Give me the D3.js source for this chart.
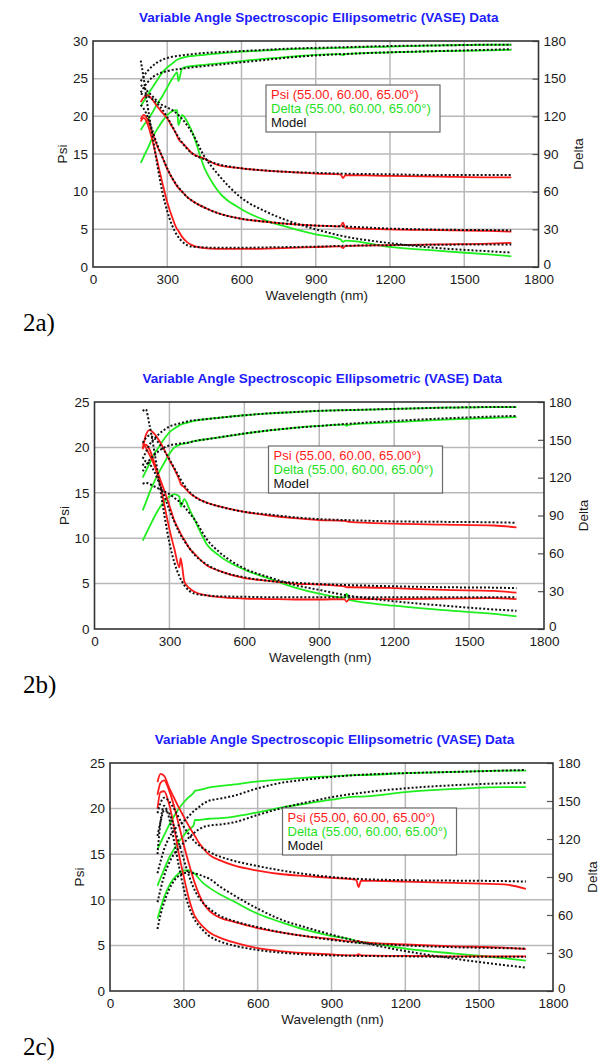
<!DOCTYPE html>
<meta charset="utf-8">
<style>
    body { margin: 0; background: #fff; }
    svg { display: block; font-family: Arial, "Liberation Sans", Helvetica, sans-serif; }
    .title { font-size: 13.5px; font-weight: bold; fill: #1c1cff; }
    .tick text { font-size: 13.5px; fill: #1a1a1a; font-family: Arial, "Liberation Sans", sans-serif; }
    .axis-label { font-size: 13.5px; fill: #1a1a1a; }
    .grid line { stroke: #b8b8b8; stroke-width: 1.5; }
    .frame { fill: none; stroke: #333; stroke-width: 1.6; }
    .psi { fill: none; stroke: #ff1a1a; stroke-width: 1.8; }
    .delta { fill: none; stroke: #1fee1f; stroke-width: 1.8; }
    .model { fill: none; stroke: #111; stroke-width: 2; stroke-dasharray: 2 2; }
    .legend rect { fill: #fff; stroke: #6a6a6a; stroke-width: 1.2; }
    .legend text { font-size: 13px; }
    .fig-label { font-family: "Liberation Serif", "Times New Roman", serif; font-size: 25px; fill: #000; }
</style>

<body>
<script src="https://d3js.org/d3.v7.min.js"></script>
<script>

    var chartTitle = "Variable Angle Spectroscopic Ellipsometric (VASE) Data";
    var legendLabels = ["Psi (55.00, 60.00, 65.00°)", "Delta (55.00, 60.00, 65.00°)", "Model"];

    // tick labels
    var xTicks = [0, 300, 600, 900, 1200, 1500, 1800];
    var psiTicks30 = [0, 5, 10, 15, 20, 25, 30];
    var psiTicks25 = [0, 5, 10, 15, 20, 25];
    var deltaTicks = [0, 30, 60, 90, 120, 150, 180];

    // wavelengths (nm) for measured data and for the model curves
    var dataWl = [193, 205, 220, 240, 260, 280, 300, 320, 340, 345, 360, 380, 400, 450, 500, 600, 700, 800, 900, 1000, 1010, 1020, 1200, 1400, 1600, 1690];
    var modelWl = [193, 205, 220, 240, 260, 280, 300, 320, 340, 360, 380, 400, 450, 500, 600, 700, 800, 900, 1000, 1200, 1400, 1600, 1690];

    /* ------- 2a ------- */
    var psi2aTop = [21.9, 22.5, 22.8, 22.2, 21.3, 20.5, 19.7, 18.6, 17.4, 17.0, 16.5, 15.8, 15.1, 14.4, 13.6, 13.1, 12.8, 12.6, 12.4, 12.3, 11.8, 12.2, 12.1, 12.0, 11.9, 11.9];
    var psi2aMid = [19.6, 20.2, 19.6, 17.8, 16.0, 14.6, 13.0, 11.8, 10.7, 10.5, 10.0, 9.3, 8.8, 7.9, 7.2, 6.4, 6.0, 5.7, 5.5, 5.4, 5.9, 5.2, 5.0, 4.9, 4.8, 4.7];
    var psi2aLow = [19.3, 19.8, 19.0, 16.8, 14.0, 11.2, 8.6, 6.6, 5.0, 4.8, 4.0, 3.3, 2.9, 2.5, 2.4, 2.4, 2.45, 2.55, 2.65, 2.75, 2.5, 2.8, 2.9, 3.0, 3.1, 3.2];
    var delta2aTop = [128, 132, 137, 143, 149, 155, 159, 162, 165, 165.5, 166.5, 167.5, 168, 169, 170, 171.5, 172.5, 173.5, 174, 174.5, 174.5, 174.6, 175.5, 176.5, 177, 177];
    var delta2aMid = [109, 113, 117, 123, 130, 136, 143, 150, 155, 148, 158, 159.5, 160, 161, 162, 164, 166, 167.5, 169, 169.5, 168.5, 169.5, 171, 172, 172.5, 173];
    var delta2aLow = [83, 88, 94, 103, 110, 116, 121, 124, 125, 113, 121, 116, 108, 79, 62, 46, 37, 31, 26, 22, 20, 21, 16, 12.8, 10, 8.5];
    var model2aPsiTop = [23.0, 22.9, 22.7, 22.3, 21.7, 20.9, 19.9, 18.7, 17.5, 16.5, 15.7, 15.1, 14.3, 13.7, 13.1, 12.8, 12.6, 12.5, 12.4, 12.3, 12.2, 12.2, 12.2];
    var model2aPsiMid = [21.5, 21.0, 20.0, 18.1, 16.2, 14.6, 13.1, 11.8, 10.8, 10.0, 9.3, 8.8, 7.9, 7.2, 6.4, 6.0, 5.7, 5.5, 5.4, 5.1, 4.95, 4.9, 4.85];
    var model2aPsiLow = [27.4, 25.0, 21.5, 17.5, 13.5, 10.0, 7.4, 5.5, 4.2, 3.4, 2.9, 2.7, 2.6, 2.55, 2.55, 2.6, 2.65, 2.7, 2.8, 2.9, 2.95, 3.0, 3.0];
    var model2aDeltaTop = [148, 152, 156, 160, 163, 165, 166.5, 167.5, 168, 168.5, 169, 169.5, 170.5, 171, 172, 173, 174, 174.5, 175, 176, 176.5, 177, 177];
    var model2aDeltaMid = [139, 143, 147, 151, 153.5, 155, 156, 157, 157.5, 158, 158.5, 159, 160, 161, 163, 165, 167, 168.5, 169.5, 171, 172, 173, 173.5];
    var model2aDeltaLow = [145, 143, 140, 136, 132, 129, 127, 125, 122, 118, 113, 107, 88, 75, 55, 44, 36, 30, 25, 19, 15, 12.5, 11.5];

    /* ------- 2b ------- */
    var psi2bTop = [19.8, 21.3, 21.9, 21.5, 20.7, 19.7, 18.6, 17.6, 16.4, 16.0, 15.6, 15.0, 14.6, 13.9, 13.5, 12.9, 12.5, 12.2, 12.0, 11.9, 11.85, 11.8, 11.6, 11.5, 11.4, 11.2];
    var psi2bMid = [20.0, 20.3, 19.8, 18.3, 16.7, 15.2, 13.6, 11.9, 10.8, 10.5, 9.8, 8.9, 8.3, 7.0, 6.4, 5.6, 5.3, 5.0, 4.9, 4.7, 4.6, 4.6, 4.5, 4.3, 4.2, 4.0];
    var psi2bLow = [20.5, 20.0, 19.2, 18.0, 16.3, 13.6, 11.0, 8.8, 6.8, 7.8, 5.2, 4.5, 4.1, 3.7, 3.5, 3.35, 3.3, 3.25, 3.25, 3.3, 3.0, 3.3, 3.3, 3.35, 3.4, 3.3];
    var delta2bTop = [120, 125, 131, 139, 145, 151, 156, 159, 161.5, 162, 163, 164, 165, 166.5, 167.5, 169.5, 171, 172, 173, 173.5, 173.5, 173.5, 174.5, 175.5, 176, 176];
    var delta2bMid = [94, 100, 108, 117, 125, 132, 139, 144, 146, 146.5, 147, 148, 149, 150.5, 152, 155, 157.5, 159.5, 161, 162, 161, 162, 164, 166, 167.5, 168];
    var delta2bLow = [70, 75, 81, 89, 96, 101, 105, 107, 105, 97, 103, 95, 87, 67, 58, 47, 40, 33, 28, 25, 28, 23, 18.5, 15, 12, 10];
    var model2bPsiTop = [20.5, 21.0, 21.3, 21.0, 20.4, 19.6, 18.7, 17.7, 16.7, 15.8, 15.1, 14.6, 13.9, 13.5, 12.9, 12.6, 12.3, 12.1, 12.0, 11.85, 11.8, 11.75, 11.7];
    var model2bPsiMid = [18.0, 18.5, 18.2, 17.3, 16.0, 14.6, 13.1, 11.8, 10.6, 9.7, 8.9, 8.2, 7.1, 6.4, 5.7, 5.3, 5.1, 4.95, 4.85, 4.7, 4.6, 4.55, 4.5];
    var model2bPsiLow = [24.0, 24.2, 22.5, 19.5, 16.0, 12.5, 9.5, 7.3, 5.8, 4.8, 4.2, 3.9, 3.7, 3.6, 3.55, 3.5, 3.5, 3.5, 3.5, 3.5, 3.5, 3.5, 3.5];
    var model2bDeltaTop = [135, 140, 146, 151, 155, 158, 160.5, 162, 163, 164, 165, 165.5, 166.5, 167.5, 169.5, 171, 172, 173, 173.5, 174.5, 175.5, 176, 176];
    var model2bDeltaMid = [125, 129, 134, 138, 141.5, 144, 145.5, 146.5, 147, 147.5, 148, 149, 150.5, 152, 155, 157.5, 159.5, 161, 162.5, 165, 167, 168.5, 169];
    var model2bDeltaLow = [115, 116, 115, 113, 111, 109, 107, 104, 101, 97, 92, 87, 71, 61, 48, 41, 35, 31, 27, 22, 18.5, 15.5, 14.5];

    /* ------- 2c ------- */
    var psi2cTop = [22.9, 23.8, 23.6, 22.3, 21.2, 20.1, 19.1, 18.1, 17.2, 17.0, 16.3, 15.6, 15.0, 14.3, 13.8, 13.2, 12.8, 12.6, 12.4, 12.2, 11.4, 12.1, 12.0, 11.85, 11.7, 11.2];
    var psi2cMid = [21.5, 22.8, 23.1, 22.0, 20.3, 18.2, 16.0, 14.0, 12.2, 11.8, 10.7, 9.6, 8.9, 8.0, 7.6, 6.9, 6.4, 6.0, 5.7, 5.4, 5.5, 5.35, 5.1, 4.9, 4.75, 4.6];
    var psi2cLow = [20.0, 21.8, 21.9, 20.5, 18.0, 15.0, 12.5, 10.2, 8.5, 8.2, 7.6, 7.0, 6.5, 5.8, 5.35, 4.7, 4.35, 4.15, 4.0, 3.9, 4.05, 3.9, 3.85, 3.8, 3.8, 3.8];
    var delta2cTop = [112, 117, 123, 131, 138, 144, 149, 153, 156.5, 158, 158.5, 159.5, 160.5, 162, 163, 165.5, 167, 168.5, 169.5, 170.5, 170.5, 170.5, 172, 173, 174, 174];
    var delta2cMid = [83, 89, 96, 105, 112, 118, 123, 127.5, 131, 135, 135, 135.5, 136, 136.5, 137.5, 141, 145, 148, 151, 153.5, 153.5, 153.5, 157, 159.5, 161, 161];
    var delta2cLow = [57, 65, 74, 83, 89, 93, 95, 95.5, 93, 92.5, 89, 85, 82, 76, 71, 61, 54, 48, 43.5, 39.5, 38, 38.5, 33.5, 29.5, 26, 24];
    var model2cPsiTop = [19.5, 20.6, 21.2, 20.8, 20.0, 19.0, 18.0, 17.2, 16.5, 16.0, 15.6, 15.3, 14.7, 14.3, 13.7, 13.2, 12.8, 12.5, 12.3, 12.15, 12.1, 12.05, 12.0];
    var model2cPsiMid = [17.0, 18.5, 19.8, 19.5, 18.0, 16.2, 14.4, 12.7, 11.3, 10.3, 9.6, 9.1, 8.2, 7.7, 7.0, 6.4, 6.0, 5.6, 5.3, 5.0, 4.8, 4.7, 4.65];
    var model2cPsiLow = [15.0, 18.5, 20.3, 19.0, 16.5, 13.7, 11.2, 9.3, 8.0, 7.2, 6.6, 6.1, 5.4, 5.0, 4.5, 4.2, 4.0, 3.9, 3.85, 3.8, 3.75, 3.75, 3.75];
    var model2cDeltaTop = [93, 102, 112, 121, 127, 131, 134, 138, 142, 145, 148, 150, 152, 154, 160, 164.5, 167, 169, 170.5, 172, 173, 174, 174.5];
    var model2cDeltaMid = [70, 80, 91, 101, 108, 113, 117, 121, 124.5, 127.5, 129.5, 130.5, 131.5, 133, 139, 144.5, 149, 153, 156, 160, 162.5, 164, 164.5];
    var model2cDeltaLow = [49, 60, 70, 80, 87, 91, 93, 93.5, 93, 92, 90.5, 89, 82, 76, 65, 56, 50, 44.5, 39.5, 31.5, 25.5, 20.5, 18.5];

    var width = 603,
        height = 1061;

    var svg = d3.select("body")
        .append("svg")
        .attr("width", width)
        .attr("height", height);

    svg.append("rect").attr("width", width).attr("height", height).attr("fill", "#fff");

    var panels = [
        {
            id: "2a", left: 93, right: 538.5, top: 41, bottom: 267, psiMax: 30, psiTicks: psiTicks30,
            psi: [psi2aTop, psi2aMid, psi2aLow], delta: [delta2aTop, delta2aMid, delta2aLow],
            modelPsi: [model2aPsiTop, model2aPsiMid, model2aPsiLow],
            modelDelta: [model2aDeltaTop, model2aDeltaMid, model2aDeltaLow],
            legend: { x: 266, y: 85 }, label: { x: 23, y: 331 }
        },
        {
            id: "2b", left: 94.5, right: 544, top: 402, bottom: 629, psiMax: 25, psiTicks: psiTicks25,
            psi: [psi2bTop, psi2bMid, psi2bLow], delta: [delta2bTop, delta2bMid, delta2bLow],
            modelPsi: [model2bPsiTop, model2bPsiMid, model2bPsiLow],
            modelDelta: [model2bDeltaTop, model2bDeltaMid, model2bDeltaLow],
            legend: { x: 268.5, y: 446 }, label: { x: 23, y: 693 }
        },
        {
            id: "2c", left: 110, right: 553, top: 763, bottom: 991, psiMax: 25, psiTicks: psiTicks25,
            psi: [psi2cTop, psi2cMid, psi2cLow], delta: [delta2cTop, delta2cMid, delta2cLow],
            modelPsi: [model2cPsiTop, model2cPsiMid, model2cPsiLow],
            modelDelta: [model2cDeltaTop, model2cDeltaMid, model2cDeltaLow],
            legend: { x: 282.5, y: 808 }, label: { x: 23, y: 1055 }
        }
    ];

    panels.forEach(drawPanel);

    function drawPanel(p) {
        var g = svg.append("g").attr("class", "panel-" + p.id);

        var x = d3.scaleLinear().domain([0, 1800]).range([p.left, p.right]);
        var yPsi = d3.scaleLinear().domain([0, p.psiMax]).range([p.bottom, p.top]);
        var yDelta = d3.scaleLinear().domain([0, 180]).range([p.bottom, p.top]);
        var midX = (p.left + p.right) / 2;
        var midY = (p.top + p.bottom) / 2;

        g.append("text")
            .attr("class", "title")
            .attr("x", midX + 3)
            .attr("y", p.top - 19)
            .attr("text-anchor", "middle")
            .text(chartTitle);

        /* ------- GRID -------*/
        g.append("g").attr("class", "grid")
            .selectAll("line")
            .data(xTicks.slice(1, -1))
            .join("line")
            .attr("x1", function (d) { return x(d); })
            .attr("x2", function (d) { return x(d); })
            .attr("y1", p.top)
            .attr("y2", p.bottom);

        g.append("g").attr("class", "grid")
            .selectAll("line")
            .data(p.psiTicks.slice(1, -1))
            .join("line")
            .attr("x1", p.left)
            .attr("x2", p.right)
            .attr("y1", function (d) { return yPsi(d); })
            .attr("y2", function (d) { return yPsi(d); });

        /* ------- CURVES -------*/
        var clipId = "clip-" + p.id;
        g.append("clipPath").attr("id", clipId)
            .append("rect")
            .attr("x", p.left).attr("y", p.top)
            .attr("width", p.right - p.left).attr("height", p.bottom - p.top);

        var plot = g.append("g").attr("clip-path", "url(#" + clipId + ")");

        var dataPsi = d3.line().curve(d3.curveMonotoneX)
            .x(function (d, i) { return x(dataWl[i]); })
            .y(function (d) { return yPsi(d); });
        var dataDelta = d3.line().curve(d3.curveMonotoneX)
            .x(function (d, i) { return x(dataWl[i]); })
            .y(function (d) { return yDelta(d); });
        var modPsi = d3.line().curve(d3.curveMonotoneX)
            .x(function (d, i) { return x(modelWl[i]); })
            .y(function (d) { return yPsi(d); });
        var modDelta = d3.line().curve(d3.curveMonotoneX)
            .x(function (d, i) { return x(modelWl[i]); })
            .y(function (d) { return yDelta(d); });

        plot.selectAll("path.delta").data(p.delta).join("path")
            .attr("class", "delta").attr("d", dataDelta);
        plot.selectAll("path.psi").data(p.psi).join("path")
            .attr("class", "psi").attr("d", dataPsi);
        plot.selectAll("path.mdelta").data(p.modelDelta).join("path")
            .attr("class", "model mdelta").attr("d", modDelta);
        plot.selectAll("path.mpsi").data(p.modelPsi).join("path")
            .attr("class", "model mpsi").attr("d", modPsi);

        /* ------- AXES -------*/
        var axL = g.append("g")
            .attr("transform", "translate(" + p.left + ",0)")
            .call(d3.axisLeft(yPsi).tickValues(p.psiTicks).tickSize(0).tickPadding(5));
        axL.select(".domain").remove();

        var axR = g.append("g")
            .attr("transform", "translate(" + p.right + ",0)")
            .call(d3.axisRight(yDelta).tickValues(deltaTicks).tickSizeInner(-6).tickSizeOuter(0).tickPadding(5));
        axR.select(".domain").remove();
        axR.selectAll(".tick line").attr("stroke", "#555").attr("stroke-width", 1.2);
        // the right-hand "0" sits just above the bottom edge, clear of the "1800" below it
        axR.selectAll(".tick text").attr("dy", function (d) { return d === 0 ? "0.1em" : "0.32em"; });

        var axB = g.append("g")
            .attr("transform", "translate(0," + p.bottom + ")")
            .call(d3.axisBottom(x).tickValues(xTicks).tickFormat(d3.format("d")).tickSize(0).tickPadding(7));
        axB.select(".domain").remove();

        g.append("rect")
            .attr("class", "frame")
            .attr("x", p.left).attr("y", p.top)
            .attr("width", p.right - p.left).attr("height", p.bottom - p.top);

        g.append("text")
            .attr("class", "axis-label")
            .attr("x", midX + 1)
            .attr("y", p.bottom + 33)
            .attr("text-anchor", "middle")
            .text("Wavelength (nm)");

        g.append("text")
            .attr("class", "axis-label")
            .attr("transform", "translate(" + (p.left - 26) + "," + midY + ") rotate(-90)")
            .attr("text-anchor", "middle")
            .text("Psi");

        g.append("text")
            .attr("class", "axis-label")
            .attr("transform", "translate(" + (p.right + 44) + "," + midY + ") rotate(-90)")
            .attr("text-anchor", "middle")
            .text("Delta");

        /* ------- LEGEND -------*/
        var lg = g.append("g").attr("class", "legend")
            .attr("transform", "translate(" + p.legend.x + "," + p.legend.y + ")");
        lg.append("rect").attr("width", 174).attr("height", 47);
        lg.selectAll("text")
            .data(legendLabels)
            .join("text")
            .attr("x", 5)
            .attr("y", function (d, i) { return 14 + i * 14; })
            .attr("fill", function (d, i) { return ["#ff1a1a", "#1fe01f", "#111"][i]; })
            .text(function (d) { return d; });

        svg.append("text")
            .attr("class", "fig-label")
            .attr("x", p.label.x)
            .attr("y", p.label.y)
            .text(p.id + ")");
    }

</script>
</body>
